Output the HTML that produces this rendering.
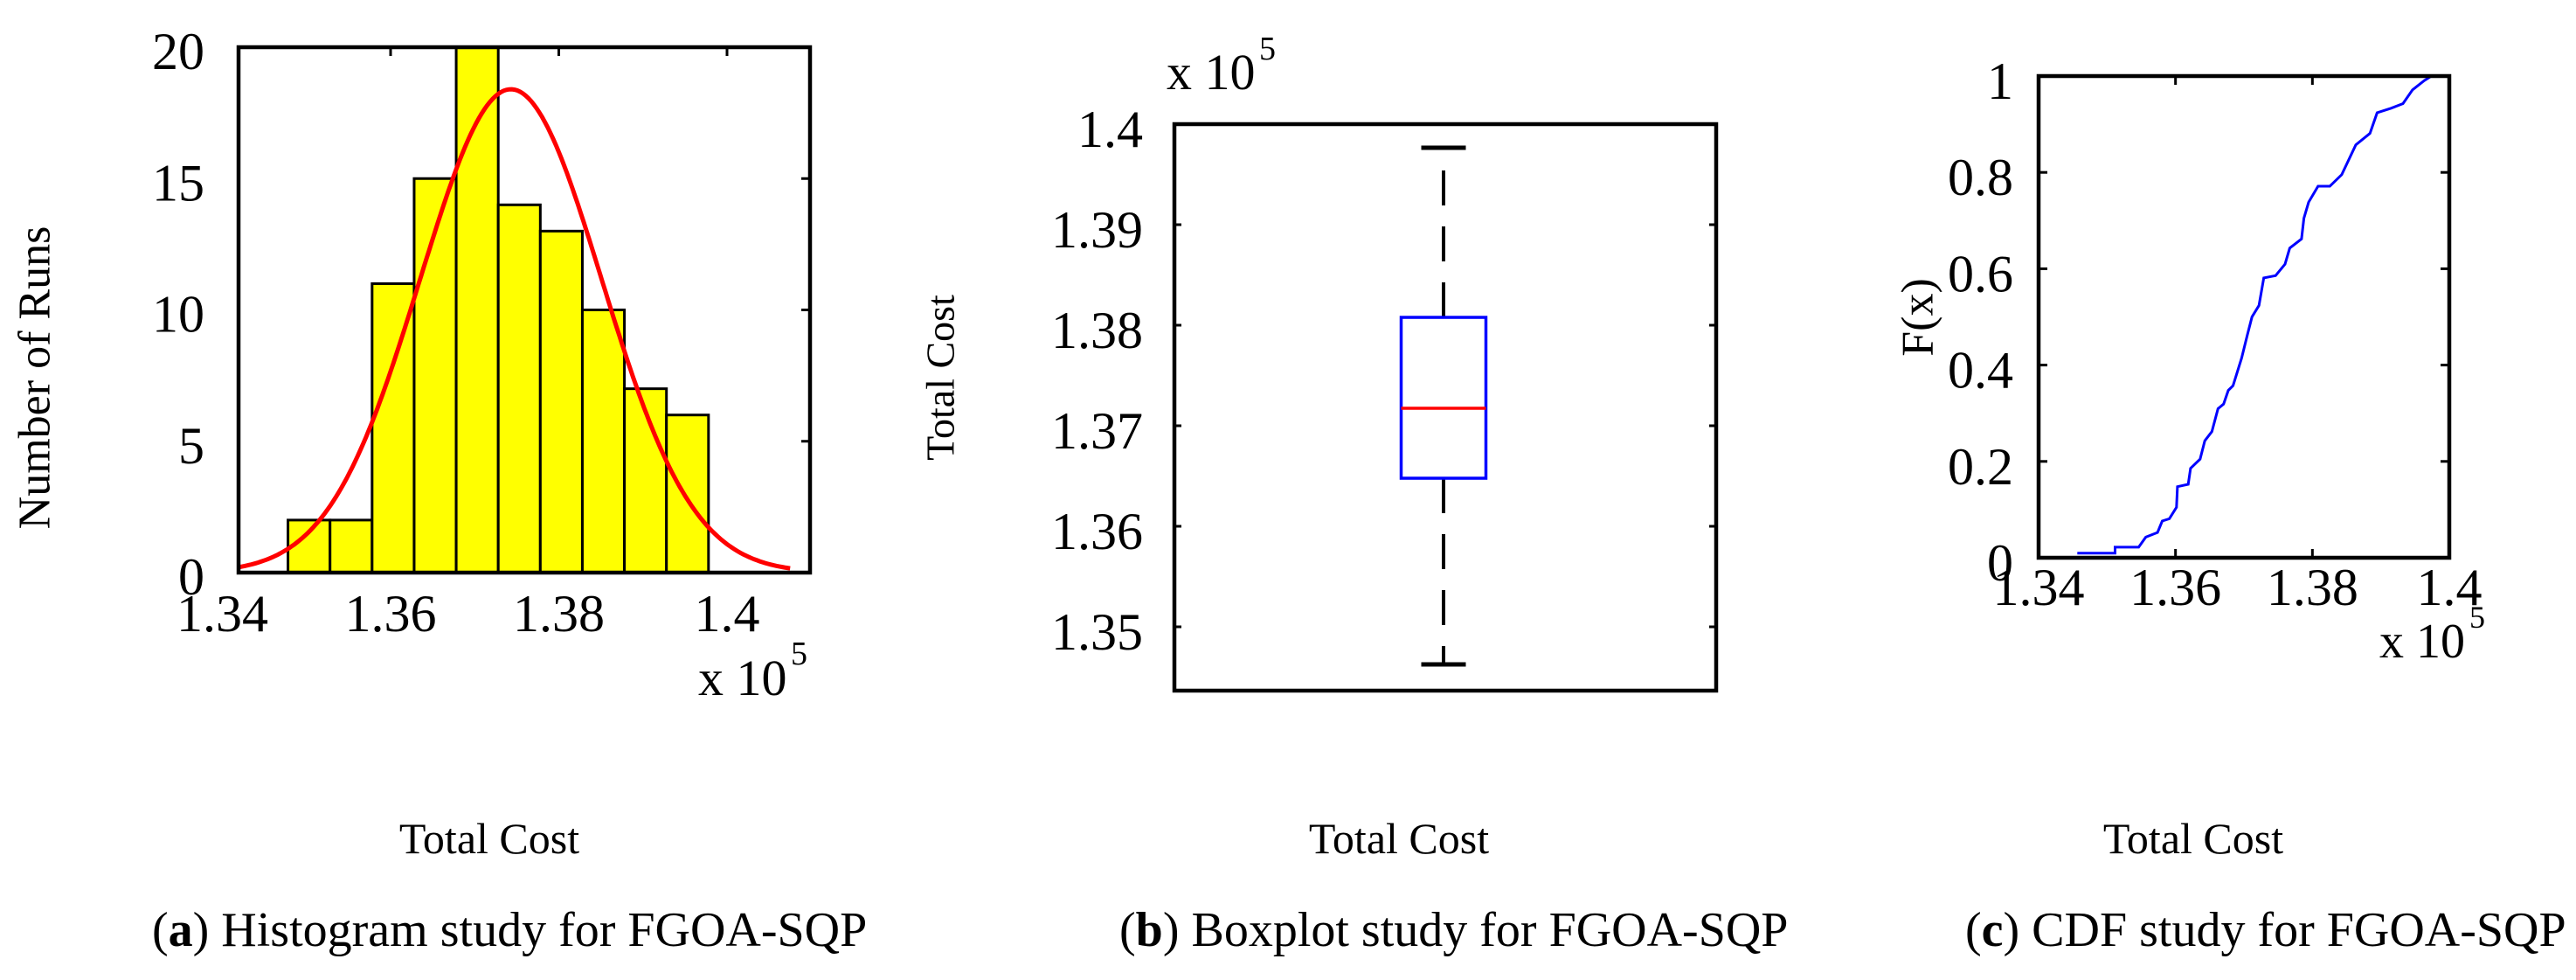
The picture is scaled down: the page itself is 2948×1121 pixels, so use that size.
<!DOCTYPE html>
<html><head><meta charset="utf-8"><style>
html,body{margin:0;padding:0;background:#fff;}
svg{display:block;font-family:"Liberation Serif",serif;}
</style></head><body>
<svg id="fig" width="2948" height="1121" viewBox="0 0 2948 1121" xmlns="http://www.w3.org/2000/svg">
<rect width="2948" height="1121" fill="#fff"/>
<g id="ga"></g>
<g id="gb"></g>
<g id="gc"></g>
<g font-size="50" fill="#000">
<text x="560" y="976" text-anchor="middle">Total Cost</text>
<text x="1601" y="976" text-anchor="middle">Total Cost</text>
<text x="2510" y="976" text-anchor="middle">Total Cost</text>
<text x="174" y="1082" font-size="56">(<tspan font-weight="bold">a</tspan>) Histogram study for FGOA-SQP</text>
<text x="1281" y="1082" font-size="56">(<tspan font-weight="bold">b</tspan>) Boxplot study for FGOA-SQP</text>
<text x="2249" y="1082" font-size="56">(<tspan font-weight="bold">c</tspan>) CDF study for FGOA-SQP</text>
</g>
</svg>
<script>
// Histogram data
const histBinStart = 1.3478;
const histBinWidth = 0.005;
const histCounts = [2, 2, 11, 15, 20, 14, 13, 10, 7, 6];
const fitMean = [1.3743];
const fitSigma = [0.0108];
const fitPeak = [18.4];
const histXTicks = [1.34, 1.36, 1.38, 1.40];
const histXTickLabels = ["1.34", "1.36", "1.38", "1.4"];
const histYTicks = [0, 5, 10, 15, 20];
const histYTickLabels = ["0", "5", "10", "15", "20"];
// Boxplot data
const boxStats = [1.34626, 1.36478, 1.37174, 1.38078, 1.39765]; // min, q1, median, q3, max
const boxYTicks = [1.35, 1.36, 1.37, 1.38, 1.39, 1.40];
const boxYTickLabels = ["1.35", "1.36", "1.37", "1.38", "1.39", "1.4"];
// CDF data
const cdfX = [1.34566,1.35117,1.35117,1.35462,1.35566,1.35738,1.35807,1.3591,1.36014,1.36028,1.36186,1.3622,1.36359,1.36428,1.36531,1.36621,1.36703,1.36772,1.36841,1.36966,1.37048,1.37117,1.3722,1.3729,1.37462,1.376,1.37669,1.37841,1.37876,1.37945,1.38083,1.38255,1.38428,1.38634,1.38841,1.38945,1.3915,1.39324,1.39462,1.39634,1.39738];
const cdfF = [0.0095,0.0095,0.0219,0.0219,0.0429,0.0524,0.0762,0.081,0.1048,0.1476,0.1524,0.1857,0.2048,0.2429,0.2619,0.3095,0.319,0.3476,0.3571,0.4143,0.4619,0.5,0.5238,0.581,0.5857,0.6095,0.6429,0.6619,0.7048,0.7381,0.7714,0.7714,0.7952,0.8571,0.881,0.9238,0.9333,0.9429,0.9714,0.9905,1.0];
const cdfXTicks = [1.34, 1.36, 1.38, 1.40];
const cdfXTickLabels = ["1.34", "1.36", "1.38", "1.4"];
const cdfYTicks = [0, 0.2, 0.4, 0.6, 0.8, 1];
const cdfYTickLabels = ["0", "0.2", "0.4", "0.6", "0.8", "1"];

const NS = "http://www.w3.org/2000/svg";
function mk(parent, tag, attrs, text) {
  const e = document.createElementNS(NS, tag);
  for (const k in attrs) e.setAttribute(k, attrs[k]);
  if (text !== undefined) e.textContent = text;
  parent.appendChild(e);
  return e;
}
function lin(d0, d1, r0, r1) { return v => r0 + (v - d0) / (d1 - d0) * (r1 - r0); }

// ---------- Panel A ----------
(function () {
  const g = document.getElementById('ga');
  const L = 273, R = 927, T = 54, B = 655;
  const x = lin(1.34, 1.40, 254.5, 832);
  const y = lin(0, 20, B, T);
  histCounts.forEach((c, i) => {
    const x0 = x(histBinStart + i * histBinWidth), x1 = x(histBinStart + (i + 1) * histBinWidth);
    const r = mk(g, 'rect', { x: x0, y: y(c), width: x1 - x0, height: y(0) - y(c), fill: '#ffff00', stroke: '#000', 'stroke-width': 3 });
    
    
  });
  let pts = [];
  const xs0 = 1.3420, xs1 = 1.4075;
  for (let k = 0; k <= 200; k++) {
    const v = xs0 + (xs1 - xs0) * k / 200;
    const f = fitPeak[0] * Math.exp(-0.5 * Math.pow((v - fitMean[0]) / fitSigma[0], 2));
    pts.push(x(v).toFixed(1) + ',' + y(f).toFixed(1));
  }
  const curve = mk(g, 'polyline', { points: pts.join(' '), fill: 'none', stroke: '#ff0000', 'stroke-width': 5 });
  
  
  const ax = mk(g, 'rect', { x: L, y: T, width: R - L, height: B - T, fill: 'none', stroke: '#000', 'stroke-width': 4.5 });
  
  
  histYTicks.forEach((t, i) => {
    mk(g, 'line', { x1: R, x2: R - 10, y1: y(t), y2: y(t), stroke: '#000', 'stroke-width': 3 });
    const tl = mk(g, 'text', { x: 234, y: y(t) + 5, 'text-anchor': 'end', 'dominant-baseline': 'central', 'font-size': 60 }, histYTickLabels[i]);
    
    
  });
  histXTicks.forEach((t, i) => {
    if (x(t) > L) mk(g, 'line', { x1: x(t), x2: x(t), y1: T, y2: T + 10, stroke: '#000', 'stroke-width': 3 });
    const tl = mk(g, 'text', { x: x(t), y: 722, 'text-anchor': 'middle', 'font-size': 60 }, histXTickLabels[i]);
    
    
  });
  const m = mk(g, 'text', { x: 799, y: 795, 'font-size': 58 }, 'x 10');
  
  
  mk(g, 'text', { x: 905, y: 760, 'font-size': 38 }, '5');
  const yt = mk(g, 'text', { x: 0, y: 0, 'text-anchor': 'middle', 'dominant-baseline': 'central', 'font-size': 52, transform: 'translate(40,432) rotate(-90)' }, 'Number of Runs');
  
  
})();

// ---------- Panel B ----------
(function () {
  const g = document.getElementById('gb');
  const L = 1344, R = 1964, T = 142, B = 790;
  const y = lin(1.35, 1.40, 717, 142);
  const cx = 1652, bw = 97, cw = 51;
  const wh1 = mk(g, 'line', { x1: cx, x2: cx, y1: y(boxStats[3]), y2: y(boxStats[4]), stroke: '#000', 'stroke-width': 4, 'stroke-dasharray': '40 24' });
  
  
  const wh2 = mk(g, 'line', { x1: cx, x2: cx, y1: y(boxStats[1]), y2: y(boxStats[0]), stroke: '#000', 'stroke-width': 4, 'stroke-dasharray': '40 24' });
  
  
  const c1 = mk(g, 'line', { x1: cx - cw / 2, x2: cx + cw / 2, y1: y(boxStats[4]), y2: y(boxStats[4]), stroke: '#000', 'stroke-width': 5 });
  
  
  const c2 = mk(g, 'line', { x1: cx - cw / 2, x2: cx + cw / 2, y1: y(boxStats[0]), y2: y(boxStats[0]), stroke: '#000', 'stroke-width': 5 });
  
  
  const bx = mk(g, 'rect', { x: cx - bw / 2, y: y(boxStats[3]), width: bw, height: y(boxStats[1]) - y(boxStats[3]), fill: '#fff', stroke: '#0000ff', 'stroke-width': 3.5 });
  
  
  const md = mk(g, 'line', { x1: cx - bw / 2, x2: cx + bw / 2, y1: y(boxStats[2]), y2: y(boxStats[2]), stroke: '#ff0000', 'stroke-width': 3.5 });
  
  
  const ax = mk(g, 'rect', { x: L, y: T, width: R - L, height: B - T, fill: 'none', stroke: '#000', 'stroke-width': 4.5 });
  
  
  boxYTicks.forEach((t, i) => {
    mk(g, 'line', { x1: L, x2: L + 8, y1: y(t), y2: y(t), stroke: '#000', 'stroke-width': 3 });
    mk(g, 'line', { x1: R, x2: R - 8, y1: y(t), y2: y(t), stroke: '#000', 'stroke-width': 3 });
    const tl = mk(g, 'text', { x: 1308, y: y(t) + 6, 'text-anchor': 'end', 'dominant-baseline': 'central', 'font-size': 60 }, boxYTickLabels[i]);
    
    
  });
  const m = mk(g, 'text', { x: 1335, y: 102, 'font-size': 58 }, 'x 10');
  
  
  mk(g, 'text', { x: 1441, y: 68, 'font-size': 38 }, '5');
  const yt = mk(g, 'text', { x: 0, y: 0, 'text-anchor': 'middle', 'dominant-baseline': 'central', 'font-size': 46, transform: 'translate(1076,432) rotate(-90)' }, 'Total Cost');
  
  
})();

// ---------- Panel C ----------
(function () {
  const g = document.getElementById('gc');
  const L = 2333, R = 2803, T = 87, B = 638;
  const x = lin(1.34, 1.40, L, R);
  const y = lin(0, 1, B, T);
  let pts = [];
  cdfX.forEach((v, i) => { pts.push(x(v).toFixed(1) + ',' + y(cdfF[i]).toFixed(1)); });
  const ln = mk(g, 'polyline', { points: pts.join(' '), fill: 'none', stroke: '#0000ff', 'stroke-width': 3 });
  
  
  const ax = mk(g, 'rect', { x: L, y: T, width: R - L, height: B - T, fill: 'none', stroke: '#000', 'stroke-width': 4.5 });
  
  
  cdfYTicks.forEach((t, i) => {
    mk(g, 'line', { x1: L, x2: L + 10, y1: y(t), y2: y(t), stroke: '#000', 'stroke-width': 3 });
    mk(g, 'line', { x1: R, x2: R - 10, y1: y(t), y2: y(t), stroke: '#000', 'stroke-width': 3 });
    const tl = mk(g, 'text', { x: 2304, y: y(t) + 6, 'text-anchor': 'end', 'dominant-baseline': 'central', 'font-size': 60 }, cdfYTickLabels[i]);
    
    
  });
  cdfXTicks.forEach((t, i) => {
    mk(g, 'line', { x1: x(t), x2: x(t), y1: B, y2: B - 10, stroke: '#000', 'stroke-width': 3 });
    mk(g, 'line', { x1: x(t), x2: x(t), y1: T, y2: T + 10, stroke: '#000', 'stroke-width': 3 });
    const tl = mk(g, 'text', { x: x(t), y: 692, 'text-anchor': 'middle', 'font-size': 60 }, cdfXTickLabels[i]);
    
    
  });
  const m = mk(g, 'text', { x: 2723, y: 752, 'font-size': 56 }, 'x 10');
  
  
  mk(g, 'text', { x: 2826, y: 718, 'font-size': 36 }, '5');
  const yt = mk(g, 'text', { x: 0, y: 0, 'text-anchor': 'middle', 'dominant-baseline': 'central', 'font-size': 52, transform: 'translate(2195,363) rotate(-90)' }, 'F(x)');
  
  
})();
</script>
</body></html>
